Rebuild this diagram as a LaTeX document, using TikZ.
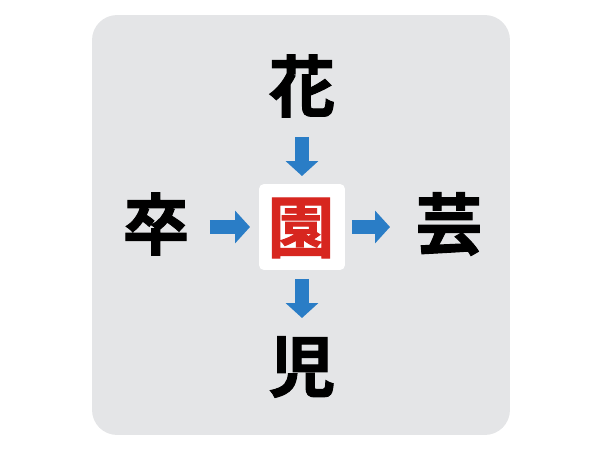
\documentclass[tikz,border=0pt]{standalone}
\usepackage{fontspec}
\newfontfamily\cjk{Noto Sans CJK JP Bold}[FakeBold=1.5]
\usetikzlibrary{arrows.meta}

\definecolor{panelgray}{HTML}{E4E5E7}
\definecolor{arrowblue}{HTML}{2A7DC6}
\definecolor{answerred}{HTML}{D7261F}

\begin{document}
\begin{tikzpicture}[x=0.02cm, y=-0.02cm,
      kanji/.style={inner sep=0pt, font=\cjk\fontsize{38}{38}\selectfont},
      answerbox/.style={fill=white, rounded corners=0.1cm, minimum size=1.72cm, inner sep=0pt},
      blockarrow/.style={arrowblue, line width=0.3cm, -{Triangle[width=0.64cm, length=0.3cm]}}
    ]
    \useasboundingbox (0,0) rectangle (600,450);
    \node[fill=panelgray, rounded corners=0.5cm, minimum width=8.36cm, minimum height=8.4cm] (panel) at (301,225) {};
    \node[answerbox] (en) at (302,227) {};
    \node[kanji, text=answerred] (enchar) at (301,228) {園};
    \node[kanji] (hana) at (302,86) {花};
    \node[kanji] (ji) at (302,367) {児};
    \node[kanji] (sotsu) at (156,224) {卒};
    \node[kanji] (gei) at (449,224) {芸};
    \draw[blockarrow, shorten <=1.02cm, shorten >=1.02cm] (hana.center) -- (en.center);
    \draw[blockarrow, shorten <=1.04cm, shorten >=0.98cm] (en.center) -- (ji.center);
    \draw[blockarrow, shorten <=1.08cm, shorten >=1.04cm] (sotsu.center |- en.center) -- (en.center);
    \draw[blockarrow, shorten <=1cm, shorten >=1.18cm] (en.center) -- (gei.center |- en.center);
\end{tikzpicture}
\end{document}
